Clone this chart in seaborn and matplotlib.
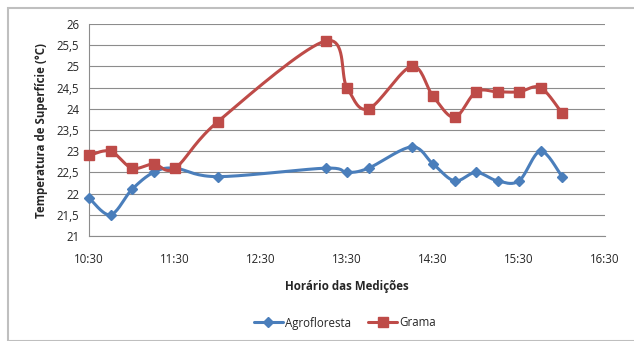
import numpy as np
import pandas as pd
import matplotlib
matplotlib.use("Agg")
import matplotlib.pyplot as plt
import seaborn as sns
from matplotlib.patches import Rectangle
from matplotlib.lines import Line2D

# horários das medições (em horas decimais)
horarios = [10.5, 10.75, 11.0, 11.25, 11.5, 12.0, 13.25, 13.5, 13.75,
            14.25, 14.5, 14.75, 15.0, 15.25, 15.5, 15.75, 16.0]
agrofloresta = [21.9, 21.5, 22.1, 22.5, 22.6, 22.4, 22.6, 22.5, 22.6,
                23.1, 22.7, 22.3, 22.5, 22.3, 22.3, 23.0, 22.4]
grama = [22.9, 23.0, 22.6, 22.7, 22.6, 23.7, 25.6, 24.5, 24.0,
         25.0, 24.3, 23.8, 24.4, 24.4, 24.4, 24.5, 23.9]
xticks = [10.5, 11.5, 12.5, 13.5, 14.5, 15.5, 16.5]
xticklabels = ["10:30", "11:30", "12:30", "13:30", "14:30", "15:30", "16:30"]


def suavizar(x, y, n=20):
    # curva suave tipo Catmull-Rom (como a linha suavizada do Excel)
    x = np.asarray(x, float)
    y = np.asarray(y, float)
    px = np.concatenate([[x[0]], x, [x[-1]]])
    py = np.concatenate([[y[0]], y, [y[-1]]])
    xs, ys = [], []
    t = np.linspace(0, 1, n)
    for i in range(1, len(px) - 2):
        p0, p1, p2, p3 = [np.array([px[j], py[j]]) for j in range(i - 1, i + 3)]
        b1 = p1 + (p2 - p0) / 6
        b2 = p2 - (p3 - p1) / 6
        pts = ((1 - t) ** 3)[:, None] * p1 + (3 * (1 - t) ** 2 * t)[:, None] * b1 \
            + (3 * (1 - t) * t ** 2)[:, None] * b2 + (t ** 3)[:, None] * p2
        xs.extend(pts[:, 0])
        ys.extend(pts[:, 1])
    return np.array(xs), np.array(ys)


sns.set_style("white")
plt.rcParams['font.family'] = ['Open Sans', 'DejaVu Sans']

azul = "#4A7EBB"
vermelho = "#BE4B48"
fs = 8.3

fig = plt.figure(figsize=(6.34, 3.41), dpi=100)
ax = fig.add_axes([89 / 634, 1 - 236 / 341, (605 - 89) / 634, (236 - 24) / 341])

df = pd.DataFrame({"hora": horarios, "Agrofloresta": agrofloresta, "Grama": grama})

for serie, cor, marc, tam in [("Agrofloresta", azul, "D", 5), ("Grama", vermelho, "s", 7)]:
    sx, sy = suavizar(df["hora"], df[serie])
    sns.lineplot(x=sx, y=sy, ax=ax, color=cor, linewidth=2.2, sort=False,
                 estimator=None, legend=False)
    ax.plot(df["hora"], df[serie], linestyle="none", marker=marc, markersize=tam,
            color=cor, clip_on=False, zorder=5)

ax.set_xlim(10.5, 16.5)
ax.set_ylim(21, 26)
yt = np.arange(21, 26.01, 0.5)
ax.set_yticks(yt)
ax.set_yticklabels([f"{v:g}".replace(".", ",") for v in yt], fontsize=fs)
ax.set_xticks(xticks)
ax.set_xticklabels(xticklabels, fontsize=fs)
ax.yaxis.grid(True, color="#8c8c8c", linewidth=0.8)
ax.tick_params(axis="both", direction="out", length=4, color="#8c8c8c", pad=3)
ax.tick_params(axis="x", pad=8)
for s in ["top", "right"]:
    ax.spines[s].set_visible(False)
for s in ["left", "bottom"]:
    ax.spines[s].set_color("#8c8c8c")
    ax.spines[s].set_linewidth(0.8)

ax.set_xlabel("Horário das Medições", fontsize=fs, fontweight="bold", labelpad=10)
ax.set_ylabel("Temperatura de Superfície (°C)", fontsize=fs, fontweight="bold", labelpad=6)

handles = [Line2D([], [], color=azul, marker="D", markersize=5, linewidth=2.2),
           Line2D([], [], color=vermelho, marker="s", markersize=7, linewidth=2.2)]
fig.legend(handles, ["Agrofloresta", "Grama"], loc="center", bbox_to_anchor=(345 / 634, 1 - 323 / 341),
           ncol=2, frameon=False, fontsize=fs, handlelength=2.5, handletextpad=0.2, columnspacing=1.5)

fig.patches.append(Rectangle((8 / 634, 0), 1, 1 - 8 / 341, transform=fig.transFigure,
                             fill=False, edgecolor="#bfbfbf", linewidth=1.5))

fig.savefig("out.png", dpi=100)
